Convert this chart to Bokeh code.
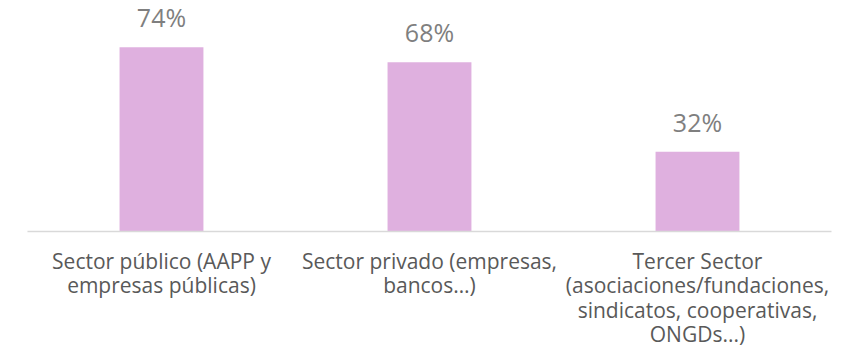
from bokeh.plotting import figure
from bokeh.models import Range1d, ColumnDataSource
from bokeh.core.properties import value
from bokeh.embed import file_html
from bokeh.resources import INLINE

categories = [
    "Sector público (AAPP y\nempresas públicas)",
    "Sector privado (empresas,\nbancos…)",
    "Tercer Sector\n(asociaciones/fundaciones,\nsindicatos, cooperativas,\nONGDs...)",
]
values = [74, 68, 32]
value_labels = ["74%", "68%", "32%"]

xs = [i + 0.5 for i in range(len(categories))]
src = ColumnDataSource(dict(x=xs, top=values, cat=categories, lab=value_labels,
                            zero=[0] * len(values)))

p = figure(width=856, height=363, output_backend="svg", toolbar_location=None,
           x_range=Range1d(-0.1007, 3.0933), y_range=Range1d(-53.0, 92.8),
           min_border=0, outline_line_color=None)
p.axis.visible = False
p.grid.visible = False
p.background_fill_color = "white"
p.border_fill_color = "white"

p.vbar(x="x", top="top", bottom=0, width=0.313, source=src,
       fill_color="#DFB0DF", line_color=None)

# baseline (category axis line)
p.segment(x0=[0], y0=[0], x1=[len(categories)], y1=[0],
          line_color="#D9D9D9", line_width=1.5)

p.text(x="x", y="top", text="lab", source=src, text_align="center",
       text_baseline="alphabetic", y_offset=-30,
       text_font=value("Open Sans"), text_font_size="25px", text_color="#7F7F7F")

p.text(x="x", y="zero", text="cat", source=src, text_align="center",
       text_baseline="top", y_offset=15, text_line_height=0.88,
       text_font=value("Open Sans"), text_font_size="21px", text_color="#595959")

open("out.html", "w").write(file_html(p, INLINE))
